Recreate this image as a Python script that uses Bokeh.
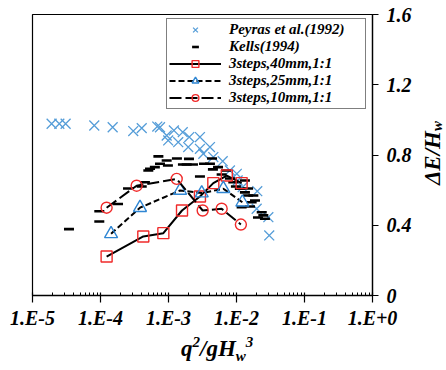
from bokeh.plotting import figure
from bokeh.models import (Range1d, FixedTicker, CustomJSTickFormatter, Legend,
                          LegendItem, Div)
from bokeh.layouts import row, column
from bokeh.embed import file_html
from bokeh.resources import INLINE

# ---------------- data ----------------
peyras_x = [1.91e-5, 2.48e-5, 3.07e-5, 8.1e-5, 1.51e-4, 3.03e-4, 4.04e-4, 6.84e-4,
            7.5e-4, 9.4e-4, 9.9e-4, 1.2e-3, 1.39e-3, 1.62e-3, 1.95e-3, 2.02e-3,
            2.9e-3, 2.9e-3, 3.25e-3, 4.07e-3, 4.56e-3, 6.27e-3, 8.0e-3, 1.01e-2,
            1.04e-2, 1.23e-2, 2.02e-2, 1.98e-2, 2.94e-2, 3.03e-2]
peyras_y = [0.978, 0.978, 0.978, 0.968, 0.958, 0.936, 0.953, 0.962,
            0.958, 0.911, 0.883, 0.94, 0.873, 0.93, 0.845, 0.902,
            0.902, 0.835, 0.807, 0.845, 0.788, 0.765, 0.712, 0.693,
            0.655, 0.617, 0.594, 0.494, 0.446, 0.342]

kells_x = [3.44e-5, 9.6e-5, 9.6e-5, 1.81e-4, 2.54e-4, 4.04e-4, 4.5e-4, 5.05e-4,
           5.35e-4, 6.3e-4, 7.1e-4, 7.5e-4, 9.4e-4, 9.8e-4, 1.33e-3, 1.63e-3,
           1.85e-3, 2.0e-3, 2.29e-3, 2.9e-3, 3.33e-3, 4.07e-3, 4.37e-3, 4.5e-3,
           5.35e-3, 6.05e-3, 7.0e-3, 8.0e-3, 8.97e-3, 9.8e-3, 1.12e-2, 1.19e-2,
           1.33e-2, 1.33e-2, 1.48e-2, 1.48e-2, 1.58e-2, 1.67e-2, 1.77e-2, 1.87e-2,
           2.07e-2, 2.35e-2, 2.48e-2, 2.62e-2]
kells_y = [0.378, 0.48, 0.421, 0.521, 0.609, 0.621, 0.645, 0.712,
           0.722, 0.731, 0.792, 0.75, 0.769, 0.74, 0.78, 0.746,
           0.746, 0.778, 0.746, 0.678, 0.75, 0.75, 0.78, 0.718,
           0.731, 0.689, 0.712, 0.666, 0.645, 0.621, 0.608, 0.503,
           0.587, 0.655, 0.569, 0.609, 0.507, 0.531, 0.569, 0.541,
           0.444, 0.474, 0.456, 0.437]

s40_x = [1.23e-4, 4.26e-4, 8.4e-4, 1.58e-3, 2.9e-3, 4.56e-3, 7.2e-3, 1.19e-2]
s40_y = [0.222, 0.336, 0.355, 0.484, 0.564, 0.64, 0.683, 0.64]

s25_x = [1.43e-4, 3.81e-4, 1.48e-3, 3.08e-3, 6.4e-3, 1.22e-2]
s25_y = [0.351, 0.5, 0.598, 0.583, 0.608, 0.531]

s10_x = [1.23e-4, 3.4e-4, 1.32e-3, 3.18e-3, 6.05e-3, 1.16e-2]
s10_y = [0.5, 0.625, 0.664, 0.484, 0.494, 0.404]

x_decades = [1e-5, 1e-4, 1e-3, 1e-2, 1e-1, 1e0]
y_ticks = [0, 0.4, 0.8, 1.2, 1.6]

legend_labels = ["Peyras et al.(1992)", "Kells(1994)", "3steps,40mm,1:1",
                 "3steps,25mm,1:1", "3steps,10mm,1:1"]

# ---------------- styling ----------------
FONT = "Liberation Serif"
RED = "#f02a2a"
BLUE = "#2f86d3"
XBLUE = "#559dd8"

p = figure(frame_width=340, frame_height=281, x_axis_type="log",
           y_axis_location="right",
           x_range=Range1d(1e-5, 1.0), y_range=Range1d(0, 1.6),
           output_backend="svg", toolbar_location=None,
           min_border_left=32, min_border_top=14,
           min_border_right=50, min_border_bottom=36)
p.grid.visible = False
p.outline_line_color = "black"
p.outline_line_width = 1.2
p.background_fill_color = "white"
p.border_fill_color = "white"

minor = [k * d for d in x_decades[:-1] for k in range(2, 10)]
p.xaxis.ticker = FixedTicker(ticks=x_decades, minor_ticks=minor)
p.xaxis.formatter = CustomJSTickFormatter(code="""
    const e = Math.round(Math.log10(tick));
    return "1.E" + (e >= 0 ? "+" : "") + e;
""")
p.yaxis.ticker = FixedTicker(ticks=y_ticks)
p.yaxis.formatter = CustomJSTickFormatter(code="""
    return tick == 0 ? "0" : tick.toFixed(1);
""")

for ax in (p.xaxis[0], p.yaxis[0]):
    ax.axis_line_color = "black"
    ax.axis_line_width = 1.3
    ax.major_tick_line_color = "black"
    ax.major_tick_line_width = 1.2
    ax.minor_tick_line_color = "black"
    ax.major_label_text_font = FONT
    ax.major_label_text_font_style = "bold italic"
    ax.major_label_text_font_size = "20px"
    ax.major_label_text_color = "black"

p.xaxis.major_tick_in = 3
p.xaxis.major_tick_out = 7
p.xaxis.minor_tick_in = 3
p.xaxis.minor_tick_out = 0
p.xaxis.major_label_standoff = 4

p.yaxis.major_tick_in = 0
p.yaxis.major_tick_out = 6
p.yaxis.minor_tick_line_color = None
p.yaxis.major_label_standoff = 8

# ---------------- data glyphs ----------------
r_p = p.scatter(peyras_x, peyras_y, marker="x", size=14, line_color=XBLUE,
                line_width=1.3)
r_k = p.scatter(kells_x, kells_y, marker="dash", size=10, line_color="black",
                line_width=2.6)

l40 = p.line(s40_x, s40_y, line_color="black", line_width=2)
m40 = p.scatter(s40_x, s40_y, marker="square", size=11, fill_color=None,
                line_color=RED, line_width=1.4)
l25 = p.line(s25_x, s25_y, line_color="black", line_width=2, line_dash="6 3")
m25 = p.scatter(s25_x, s25_y, marker="triangle", size=13, fill_color=None,
                line_color=BLUE, line_width=1.4)
l10 = p.line(s10_x, s10_y, line_color="black", line_width=2, line_dash="12 4")
m10 = p.scatter(s10_x, s10_y, marker="circle", size=11, fill_color=None,
                line_color=RED, line_width=1.4)

items = [LegendItem(label=legend_labels[0], renderers=[r_p]),
         LegendItem(label=legend_labels[1], renderers=[r_k]),
         LegendItem(label=legend_labels[2], renderers=[l40, m40]),
         LegendItem(label=legend_labels[3], renderers=[l25, m25]),
         LegendItem(label=legend_labels[4], renderers=[l10, m10])]
legend = Legend(items=items, location=(134, 186),
                glyph_width=52, glyph_height=17, spacing=0, padding=2,
                label_standoff=8, label_width=134, margin=0,
                label_text_font=FONT, label_text_font_style="bold italic",
                label_text_font_size="15px", label_text_color="black",
                border_line_color="black", border_line_width=1.5,
                background_fill_color="white", background_fill_alpha=1.0)
p.add_layout(legend, "center")

# ---------------- axis titles with real sub/superscripts ----------------
FONT_CSS = ("font-family:'Liberation Serif'; font-weight:bold; font-style:italic; "
            "color:black; white-space:nowrap;")
SUP = "font-size:15px; line-height:0; vertical-align:9px;"
SUB = "font-size:15px; line-height:0; vertical-align:-5px;"

x_title = Div(text=(
    f'<div style="{FONT_CSS} font-size:23px; line-height:23px; '
    f'padding-left:181px; padding-top:6px;">'
    f'q<span style="{SUP}">2</span>/gH<span style="{SUB}">w</span>'
    f'<span style="{SUP}">3</span></div>'),
    width=446, height=36, margin=0, styles={"overflow": "visible"})

y_title = Div(text=(
    f'<div style="{FONT_CSS} font-size:23px; line-height:16px; '
    f'writing-mode:vertical-rl; transform:rotate(180deg); '
    f'margin-top:121px; margin-left:3px;">'
    f'ΔE/H<span style="font-size:15px; line-height:0; vertical-align:-4px;">w</span></div>'),
    width=24, height=331, margin=0, styles={"overflow": "visible"})

layout = column(row(p, y_title, spacing=0), x_title, spacing=0)

open("out.html", "w").write(file_html(layout, INLINE))
